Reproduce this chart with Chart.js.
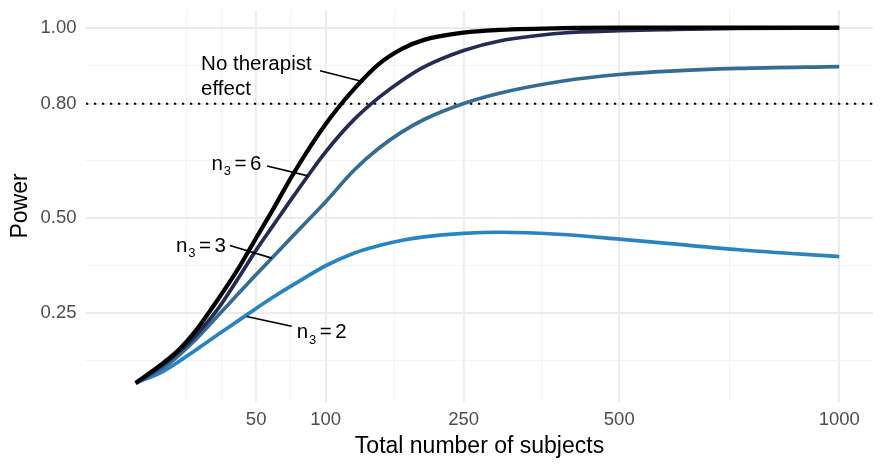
<!DOCTYPE html>
<html>
<head>
<meta charset="utf-8">
<script src="https://cdn.jsdelivr.net/npm/chart.js@4.4.1/dist/chart.umd.min.js"></script>
<style>
  html, body { margin: 0; padding: 0; background: #ffffff; overflow: hidden; }
  #wrap { width: 886px; height: 471px; position: relative; }
</style>
</head>
<body>
<div id="wrap"><canvas id="chart" width="886" height="471"></canvas></div>
<script>
// ---------------- data ----------------
const totalSubjects = [4, 10, 15, 20, 30, 40, 50, 60, 75, 100, 125, 150, 175, 200, 250, 300, 400, 500, 600, 750, 1000];
const powerNoTherapist = [0.067, 0.120, 0.158, 0.200, 0.288, 0.368, 0.448, 0.519, 0.619, 0.747, 0.838, 0.905, 0.945, 0.968, 0.987, 0.994, 0.999, 1.000, 1.000, 1.000, 1.000];
const powerN3Six   = [0.067, 0.115, 0.152, 0.188, 0.263, 0.343, 0.416, 0.477, 0.559, 0.674, 0.758, 0.817, 0.862, 0.897, 0.940, 0.965, 0.986, 0.992, 0.995, 0.998, 0.999];
const powerN3Three = [0.067, 0.107, 0.143, 0.178, 0.245, 0.302, 0.352, 0.396, 0.456, 0.543, 0.625, 0.684, 0.727, 0.759, 0.801, 0.828, 0.860, 0.877, 0.886, 0.893, 0.898];
const powerN3Two   = [0.067, 0.098, 0.126, 0.151, 0.195, 0.231, 0.263, 0.291, 0.326, 0.375, 0.408, 0.428, 0.442, 0.451, 0.460, 0.463, 0.457, 0.445, 0.433, 0.417, 0.399];

const seriesNames  = ['No therapist effect', 'n3 = 6', 'n3 = 3', 'n3 = 2'];
const seriesColors = ['#000000', '#262B53', '#346C94', '#2A84C2'];

const xTickValues = [50, 100, 250, 500, 1000];
const xTickLabels = ['50', '100', '250', '500', '1000'];
const yTickValues = [0.25, 0.50, 0.80, 1.00];
const yTickLabels = ['0.25', '0.50', '0.80', '1.00'];
const powerTarget = 0.80;

const xTitle = 'Total number of subjects';
const yTitle = 'Power';

// axis limits (x in square-root units, y in power units)
const xLimitsSqrt = [-0.093, 33.045];
const yLimits = [0.0173, 1.0464];

// text annotations: anchor (n, power) and leader line ends (n, power)
const annotations = [
  { lines: ['No therapist', 'effect'], at: [22.6, 0.888], from: [95.3, 0.887], to: [134.2, 0.858] },
  { sub: '3', value: '6', at: [27.0, 0.627], from: [56.7, 0.637], to: [85.6, 0.611] },
  { sub: '3', value: '3', at: [13.7, 0.412], from: [35.6, 0.428], to: [59.7, 0.395] },
  { sub: '3', value: '2', at: [77.1, 0.185], from: [44.5, 0.242], to: [73.4, 0.216] }
];

// ---------------- helpers ----------------
const FONT = '"Liberation Sans", Arial, Helvetica, sans-serif';
const sq = Math.sqrt;

function minorBreaks(majors, lo, hi) {
  const b = majors.slice();
  const bd = b[1] - b[0];
  if (lo < b[0]) b.unshift(b[0] - bd);
  if (hi > b[b.length - 1]) b.push(b[b.length - 1] + bd);
  const out = b.slice();
  for (let i = 0; i < b.length - 1; i++) out.push((b[i] + b[i + 1]) / 2);
  return out.filter(v => v >= lo && v <= hi && !majors.some(m => Math.abs(m - v) < 1e-9));
}

const xMajorSqrt = xTickValues.map(sq);
const xMinorSqrt = minorBreaks(xMajorSqrt, xLimitsSqrt[0], xLimitsSqrt[1]);
const yMinor = minorBreaks(yTickValues, yLimits[0], yLimits[1]);

const idxOf = (arr, v) => arr.findIndex(m => Math.abs(m - v) < 1e-6);
const toPoints = (ys) => totalSubjects.map((n, i) => ({ x: sq(n), y: ys[i] }));

const lineStyle = (color, width) => ({
  borderColor: color, backgroundColor: color, borderWidth: width,
  pointRadius: 0, pointHoverRadius: 0, fill: false,
  cubicInterpolationMode: 'monotone', borderCapStyle: 'butt', borderJoinStyle: 'round'
});

// ---------------- annotation plugin ----------------
const annotationPlugin = {
  id: 'annotations',
  afterDatasetsDraw(chart) {
    const { ctx, scales: { x, y } } = chart;
    const px = n => x.getPixelForValue(sq(n));
    const py = p => y.getPixelForValue(p);
    ctx.save();
    ctx.strokeStyle = '#000000';
    ctx.lineWidth = 1.6;
    ctx.lineCap = 'butt';
    annotations.forEach(a => {
      ctx.beginPath();
      ctx.moveTo(px(a.from[0]), py(a.from[1]));
      ctx.lineTo(px(a.to[0]), py(a.to[1]));
      ctx.stroke();
    });
    ctx.fillStyle = '#000000';
    ctx.textBaseline = 'alphabetic';
    ctx.textAlign = 'left';
    const mainFont = '20.5px ' + FONT;
    const subFont = '13px ' + FONT;
    annotations.forEach(a => {
      const X = px(a.at[0]);
      const Y = py(a.at[1]);
      ctx.font = mainFont;
      if (a.lines) {
        a.lines.forEach((t, i) => ctx.fillText(t, X, Y + i * 25));
      } else {
        let cx = X;
        ctx.fillText('n', cx, Y);
        cx += ctx.measureText('n').width + 0.8;
        ctx.font = subFont;
        ctx.fillText(a.sub, cx, Y + 5.5);
        cx += ctx.measureText(a.sub).width + 3.5;
        ctx.font = mainFont;
        ctx.fillText('=', cx, Y);
        cx += ctx.measureText('=').width + 3.5;
        ctx.fillText(a.value, cx, Y);
      }
    });
    ctx.restore();
  }
};

// ---------------- chart ----------------
new Chart(document.getElementById('chart'), {
  type: 'line',
  data: {
    datasets: [
      Object.assign({ label: seriesNames[0], data: toPoints(powerNoTherapist) }, lineStyle(seriesColors[0], 4.2)),
      Object.assign({ label: seriesNames[1], data: toPoints(powerN3Six) }, lineStyle(seriesColors[1], 3.7)),
      Object.assign({ label: seriesNames[2], data: toPoints(powerN3Three) }, lineStyle(seriesColors[2], 3.7)),
      Object.assign({ label: seriesNames[3], data: toPoints(powerN3Two) }, lineStyle(seriesColors[3], 3.7)),
      Object.assign({ label: 'Power 0.80',
        data: [{ x: xLimitsSqrt[0], y: powerTarget }, { x: xLimitsSqrt[1], y: powerTarget }],
        borderDash: [2.2, 5.8], tension: 0 }, lineStyle('#000000', 2))
    ]
  },
  options: {
    responsive: false,
    devicePixelRatio: 1,
    animation: false,
    events: [],
    layout: { padding: { top: 10, right: 13, left: 0, bottom: 0 } },
    plugins: { legend: { display: false }, tooltip: { enabled: false } },
    scales: {
      x: {
        type: 'linear',
        min: xLimitsSqrt[0],
        max: xLimitsSqrt[1],
        afterBuildTicks: (axis) => {
          axis.ticks = xMajorSqrt.concat(xMinorSqrt).sort((a, b) => a - b).map(v => ({ value: v }));
        },
        afterFit: (scale) => { scale.height = 69; scale.paddingLeft = 0; scale.paddingRight = 0; },
        ticks: {
          autoSkip: false, maxRotation: 0, minRotation: 0,
          padding: 6.4,
          color: '#4D4D4D',
          font: { family: FONT, size: 18.5 },
          callback: (v) => { const i = idxOf(xMajorSqrt, v); return i >= 0 ? xTickLabels[i] : ''; }
        },
        grid: {
          drawTicks: false,
          color: (c) => idxOf(xMajorSqrt, c.tick.value) >= 0 ? '#EBEBEB' : '#F3F3F3',
          lineWidth: (c) => idxOf(xMajorSqrt, c.tick.value) >= 0 ? 1.9 : 1.1
        },
        border: { display: false },
        title: {
          display: true, text: xTitle, color: '#000000',
          font: { family: FONT, size: 23 },
          padding: { top: 0, bottom: 10.2 }
        }
      },
      y: {
        type: 'linear',
        min: yLimits[0],
        max: yLimits[1],
        afterBuildTicks: (axis) => {
          axis.ticks = yTickValues.concat(yMinor).sort((a, b) => a - b).map(v => ({ value: v }));
        },
        afterFit: (scale) => { scale.width = 86; scale.paddingTop = 0; scale.paddingBottom = 0; },
        ticks: {
          autoSkip: false,
          padding: 9.5,
          color: '#4D4D4D',
          font: { family: FONT, size: 18.5 },
          callback: (v) => { const i = idxOf(yTickValues, v); return i >= 0 ? yTickLabels[i] : ''; }
        },
        grid: {
          drawTicks: false,
          color: (c) => idxOf(yTickValues, c.tick.value) >= 0 ? '#EBEBEB' : '#F3F3F3',
          lineWidth: (c) => idxOf(yTickValues, c.tick.value) >= 0 ? 1.9 : 1.1
        },
        border: { display: false },
        title: {
          display: true, text: yTitle, color: '#000000',
          font: { family: FONT, size: 23 },
          padding: { top: 6.5, bottom: 0 }
        }
      }
    }
  },
  plugins: [annotationPlugin]
});
</script>
</body>
</html>
